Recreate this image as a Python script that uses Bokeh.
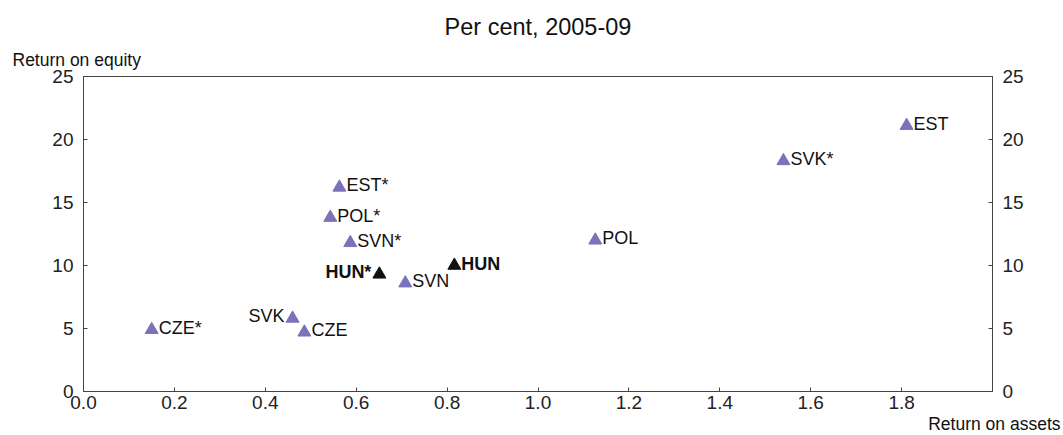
from bokeh.plotting import figure
from bokeh.models import LinearAxis, Range1d, FixedTicker, Title, ColumnDataSource, CustomJSTickFormatter
from bokeh.embed import file_html
from bokeh.resources import INLINE
from bokeh.core.properties import value

# data
countries = ["CZE*", "SVK", "CZE", "EST*", "POL*", "SVN*", "HUN*", "SVN", "HUN", "POL", "SVK*", "EST"]
roa = [0.150, 0.460, 0.486, 0.563, 0.543, 0.587, 0.651, 0.708, 0.816, 1.126, 1.540, 1.811]
roe = [4.9, 5.8, 4.7, 16.2, 13.8, 11.8, 9.3, 8.6, 10.0, 12.0, 18.3, 21.1]
highlight = [False, False, False, False, False, False, True, False, True, False, False, False]
label_left = [False, True, False, False, False, False, True, False, False, False, False, False]

x_ticks = [0.0, 0.2, 0.4, 0.6, 0.8, 1.0, 1.2, 1.4, 1.6, 1.8]
y_ticks = [0, 5, 10, 15, 20, 25]

PURPLE = "#7b72b9"
FONT = "Liberation Sans"

p = figure(width=1063, height=435, output_backend="svg", toolbar_location=None,
           x_range=Range1d(0, 2.0), y_range=Range1d(0, 25),
           min_border_left=83, min_border_right=71, min_border_top=76, min_border_bottom=44,
           y_axis_location=None, x_axis_location=None)
p.title = None
p.xgrid.visible = False
p.ygrid.visible = False
p.outline_line_color = "#444444"
p.outline_line_width = 1
p.background_fill_color = "white"
p.border_fill_color = "white"

def style_axis(ax):
    ax.axis_line_color = "#444444"
    ax.major_tick_line_color = "#444444"
    ax.major_tick_in = 4
    ax.major_tick_out = 0
    ax.minor_tick_line_color = None
    ax.major_label_text_font = FONT
    ax.major_label_text_font_size = "19px"
    ax.major_label_text_color = "#222222"

xax = LinearAxis(ticker=FixedTicker(ticks=x_ticks))
style_axis(xax)
xax.major_label_standoff = 4
xax.formatter = CustomJSTickFormatter(code="return tick.toFixed(1);")
p.add_layout(xax, "below")

for side in ("left", "right"):
    ya = LinearAxis(ticker=FixedTicker(ticks=y_ticks))
    style_axis(ya)
    ya.major_label_standoff = 10
    p.add_layout(ya, side)

colors = ["#111111" if h else PURPLE for h in highlight]
src = ColumnDataSource(dict(x=roa, y=roe, c=colors))
p.scatter("x", "y", source=src, marker="triangle", size=13, fill_color="c", line_color="c")

for name, xv, yv, h, left in zip(countries, roa, roe, highlight, label_left):
    p.text(x=[xv], y=[yv], text=[name],
           text_align="right" if left else "left", text_baseline="middle",
           x_offset=-8 if left else 7, y_offset=-2,
           text_font=value(FONT), text_font_size="18px",
           text_font_style="bold" if h else "normal", text_color="#111111")

p.add_layout(Title(text="Return on equity", align="left", offset=-71, standoff=14,
                   text_font=FONT, text_font_size="17.5px", text_font_style="normal",
                   text_color="#111111"), "above")
p.add_layout(Title(text="Per cent, 2005-09", align="center", standoff=2,
                   text_font=FONT, text_font_size="23.5px", text_font_style="normal",
                   text_color="#111111"), "above")
p.add_layout(Title(text=" ", align="center", standoff=7,
                   text_font=FONT, text_font_size="1px", text_color="white"), "above")
p.add_layout(Title(text="Return on assets", align="right", offset=-68, standoff=0,
                   text_font=FONT, text_font_size="17.5px", text_font_style="normal",
                   text_color="#111111"), "below")

open("out.html", "w").write(file_html(p, INLINE))
